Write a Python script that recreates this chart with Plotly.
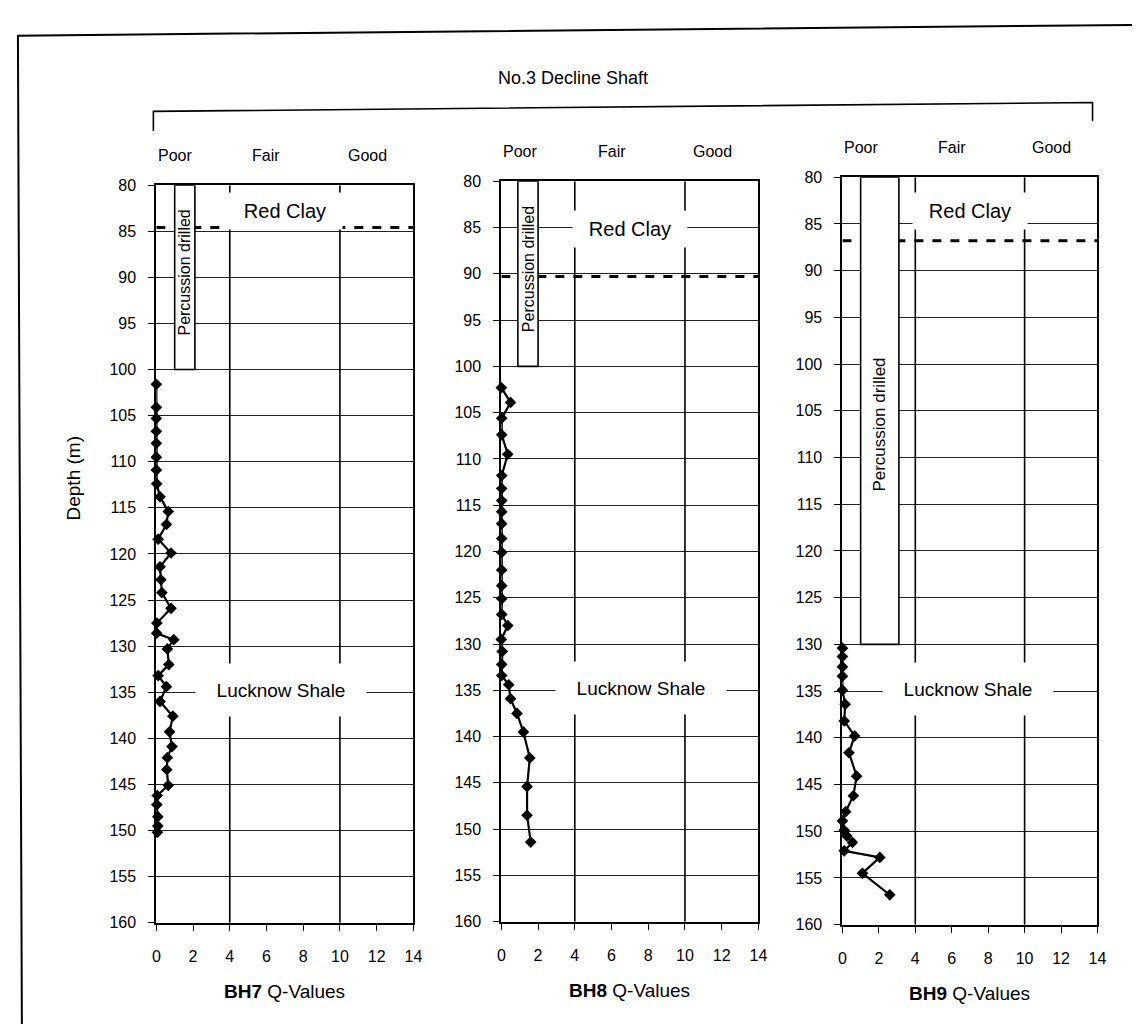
import plotly.graph_objects as go

# ---------------- data ----------------
bh7_depth = [101.6, 104.1, 105.3, 106.7, 108.0, 109.5, 110.9, 112.4, 113.8, 115.4,
             116.8, 118.4, 119.9, 121.4, 122.8, 124.2, 125.9, 127.5, 128.6, 129.3,
             130.3, 132.0, 133.2, 134.4, 136.0, 137.6, 139.3, 140.9, 142.1, 143.4,
             145.1, 146.2, 147.2, 148.5, 149.5, 150.2]
bh7_q = [0.0, 0.0, 0.0, 0.0, 0.0, 0.0, 0.0, 0.02, 0.2, 0.65,
         0.55, 0.1, 0.8, 0.2, 0.25, 0.3, 0.8, 0.03, 0.02, 0.95,
         0.6, 0.68, 0.1, 0.55, 0.2, 0.9, 0.72, 0.85, 0.6, 0.57,
         0.65, 0.05, 0.03, 0.08, 0.08, 0.06]

bh8_depth = [102.3, 103.9, 105.6, 107.4, 109.5, 111.8, 113.2, 114.5, 115.7, 117.0,
             118.6, 120.1, 122.0, 123.7, 125.1, 126.8, 128.0, 129.5, 130.8, 132.2,
             133.4, 134.4, 135.9, 137.5, 139.5, 142.3, 145.4, 148.5, 151.4]
bh8_q = [0.0, 0.5, 0.02, 0.02, 0.35, 0.02, 0.02, 0.02, 0.02, 0.02,
         0.02, 0.02, 0.02, 0.02, 0.02, 0.02, 0.35, 0.0, 0.05, 0.02,
         0.02, 0.4, 0.5, 0.85, 1.2, 1.55, 1.4, 1.4, 1.6]

bh9_depth = [130.4, 131.3, 132.4, 133.4, 134.9, 136.4, 138.2, 139.8, 141.6, 144.1,
             146.2, 147.9, 148.9, 149.9, 150.5, 151.2, 152.1, 152.8, 154.5, 156.8]
bh9_q = [0.0, 0.0, 0.0, 0.0, 0.0, 0.15, 0.1, 0.67, 0.36, 0.78,
         0.6, 0.18, 0.0, 0.1, 0.24, 0.55, 0.1, 2.05, 1.1, 2.6]

boreholes = ["BH7", "BH8", "BH9"]
red_clay_base = [84.6, 90.3, 86.8]
red_clay_label_y = [82.8, 85.2, 83.6]
lucknow_label_x = [6.8, 7.6, 6.9]
percussion_x = [(1.0, 2.1), (0.9, 2.0), (1.0, 3.1)]
percussion_base = [100, 100, 130]
percussion_label_y = [89.5, 89.5, 106.5]
quality_labels = ["Poor", "Fair", "Good"]
quality_label_x = [1.0, 6.0, 11.5]
quality_bounds = [4, 10]
depth_ticks = list(range(80, 161, 5))
q_ticks = list(range(0, 15, 2))

# ---------------- layout geometry ----------------
W, H = 1140, 1025
def px(x):
    return x / W
def py(y):
    return 1 - y / H

panels = [
    dict(x0=146, x1=406, y0=172, y1=922, depth=bh7_depth, q=bh7_q),
    dict(x0=495, x1=755, y0=168, y1=921, depth=bh8_depth, q=bh8_q),
    dict(x0=840, x1=1098, y0=164, y1=924, depth=bh9_depth, q=bh9_q),
]

FONT = "Liberation Sans, Arial, sans-serif"
fig = go.Figure()
shapes = []
annotations = []

for i, p in enumerate(panels):
    n = "" if i == 0 else str(i + 1)
    xa, ya = "x" + n, "y" + n
    fig.add_trace(go.Scatter(
        x=p["q"], y=p["depth"], xaxis=xa, yaxis=ya, mode="lines+markers",
        line=dict(color="black", width=2.2),
        marker=dict(symbol="diamond", size=9, color="black"),
        showlegend=False, cliponaxis=False))
    fig.layout["xaxis" + n] = dict(
        domain=[px(p["x0"]), px(p["x1"])], range=[0, 14], anchor=ya,
        tickvals=q_ticks, ticks="outside", ticklen=6, tickcolor="black",
        ticklabelstandoff=12,
        showgrid=False, zeroline=False, showline=True, mirror=True,
        linecolor="black", linewidth=2,
        tickfont=dict(family=FONT, size=16, color="black"))
    fig.layout["yaxis" + n] = dict(
        domain=[py(p["y1"]), py(p["y0"])], range=[160, 80], anchor=xa,
        tickvals=depth_ticks, ticks="outside", ticklen=6, tickcolor="black",
        ticklabelstandoff=9,
        showgrid=True, gridcolor="#222", gridwidth=1, zeroline=False,
        showline=True, mirror=True, linecolor="black", linewidth=2,
        tickfont=dict(family=FONT, size=16, color="black"))

    xr, yr = xa, ya
    # Poor/Fair/Good boundaries
    for b in quality_bounds:
        shapes.append(dict(type="line", xref=xr, yref=yr, x0=b, x1=b, y0=80, y1=160,
                           line=dict(color="black", width=1.6), layer="between"))
    # Red clay dashed boundary
    shapes.append(dict(type="line", xref=xr, yref=yr, x0=0, x1=14,
                       y0=red_clay_base[i], y1=red_clay_base[i],
                       line=dict(color="black", width=3, dash="dash"), layer="between"))
    # Percussion drilled box
    bx0, bx1 = percussion_x[i]
    shapes.append(dict(type="rect", xref=xr, yref=yr, x0=bx0, x1=bx1, y0=80,
                       y1=percussion_base[i], fillcolor="white",
                       line=dict(color="black", width=1.6), layer="between"))
    annotations.append(dict(xref=xr, yref=yr, x=(bx0 + bx1) / 2, y=percussion_label_y[i],
                            text="Percussion drilled", textangle=-90, showarrow=False,
                            xanchor="center", yanchor="middle",
                            font=dict(family=FONT, size=16 if i < 2 else 17, color="black")))
    # Red Clay label
    annotations.append(dict(xref=xr, yref=yr, x=7.0, y=red_clay_label_y[i],
                            text="Red Clay", showarrow=False, bgcolor="white",
                            width=112, height=34, xanchor="center", yanchor="middle",
                            font=dict(family=FONT, size=20, color="black")))
    # Lucknow Shale label
    annotations.append(dict(xref=xr, yref=yr, x=lucknow_label_x[i], y=134.8,
                            text="Lucknow Shale", showarrow=False, bgcolor="white",
                            width=168, height=50, xanchor="center", yanchor="middle",
                            font=dict(family=FONT, size=19, color="black")))
    # Quality labels
    for lab, lx in zip(quality_labels, quality_label_x):
        annotations.append(dict(xref=xr, yref="paper", x=lx, y=py(p["y0"] - 30),
                                text=lab, showarrow=False, xanchor="center",
                                yanchor="middle",
                                font=dict(family=FONT, size=16, color="black")))
    # Axis title
    annotations.append(dict(xref="paper", yref="paper",
                            x=px((p["x0"] + p["x1"]) / 2), y=py(p["y1"] + 70),
                            text="<b>" + boreholes[i] + "</b> Q-Values", showarrow=False,
                            xanchor="center", yanchor="middle",
                            font=dict(family=FONT, size=19, color="black")))

# Depth axis label
annotations.append(dict(xref="paper", yref="paper", x=px(62), y=py(470),
                        text="Depth (m)", textangle=-90, showarrow=False,
                        xanchor="center", yanchor="middle",
                        font=dict(family=FONT, size=19, color="black")))
# Main title
annotations.append(dict(xref="paper", yref="paper", x=px(567), y=py(63),
                        text="No.3 Decline Shaft", showarrow=False,
                        xanchor="center", yanchor="middle",
                        font=dict(family=FONT, size=18, color="black")))

# Bracket
shapes.append(dict(type="path", xref="paper", yref="paper",
                   path=f"M {px(143)},{py(117)} L {px(143)},{py(97)} L {px(1093)},{py(88)} L {px(1093)},{py(107)}",
                   line=dict(color="black", width=1.6)))
# Outer frame
shapes.append(dict(type="path", xref="paper", yref="paper",
                   path=f"M {px(10)},{py(1025)} L {px(6)},{py(20)} L {px(1140)},{py(9)}",
                   line=dict(color="black", width=2)))

fig.update_layout(width=W, height=H, margin=dict(l=0, r=0, t=0, b=0),
                  paper_bgcolor="white", plot_bgcolor="white",
                  shapes=shapes, annotations=annotations,
                  font=dict(family=FONT, color="black"))

fig.write_html("out.html")
